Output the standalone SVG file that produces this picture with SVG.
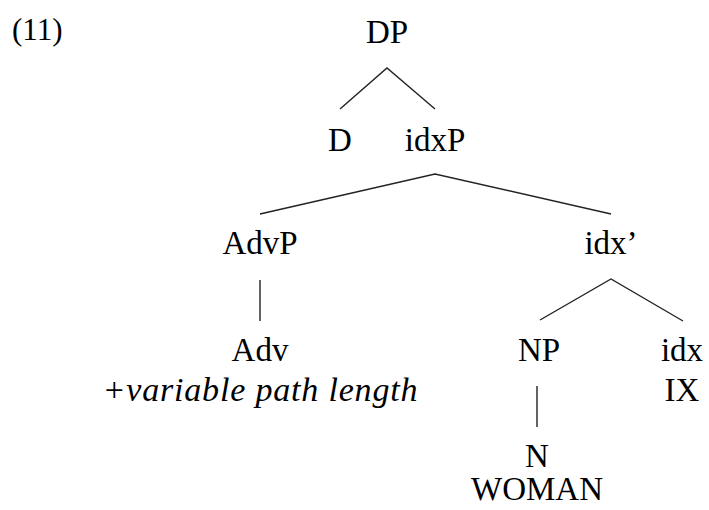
<svg xmlns="http://www.w3.org/2000/svg" width="709" height="510" viewBox="0 0 709 510">
  <style>
    .lbl { font-family: "Liberation Serif", "Times New Roman", serif; font-size: 33px; fill: #000; text-anchor: middle; }
    .it { font-style: italic; font-size: 34px; }
    .edge { stroke: #222; stroke-width: 1.4; fill: none; stroke-linecap: butt; }
  </style>
  <rect width="709" height="510" fill="#fff"/>

  <!-- example number -->
  <text x="12" y="40" style="font-family: 'Liberation Serif', 'Times New Roman', serif; font-size: 31px;">(11)</text>

  <!-- tree edges -->
  <g id="edges">
    <path class="edge" d="M340,109 L387,68 L435,109"/>
    <path class="edge" d="M260,214 L435,174 L611,214"/>
    <path class="edge" d="M260,280 L260,321"/>
    <path class="edge" d="M540,320 L611,279 L683,321"/>
    <path class="edge" d="M537,386 L537,427"/>
  </g>

  <!-- nodes -->
  <g id="DP"><text class="lbl" x="387" y="43">DP</text></g>
  <g id="D"><text class="lbl" x="340" y="151">D</text></g>
  <g id="idxP"><text class="lbl" x="435" y="151">idxP</text></g>
  <g id="AdvP"><text class="lbl" x="260" y="254">AdvP</text></g>
  <g id="idxBar"><text class="lbl" x="611" y="254">idx’</text></g>
  <g id="Adv">
    <text class="lbl" x="260" y="361">Adv</text>
    <text class="lbl it" x="260" y="401" textLength="315" lengthAdjust="spacing">+variable path length</text>
  </g>
  <g id="NP"><text class="lbl" x="539" y="361">NP</text></g>
  <g id="idx">
    <text class="lbl" x="682" y="361">idx</text>
    <text class="lbl" x="682" y="401">IX</text>
  </g>
  <g id="N">
    <text class="lbl" x="537" y="467">N</text>
    <text class="lbl" x="537" y="500">WOMAN</text>
  </g>
</svg>
